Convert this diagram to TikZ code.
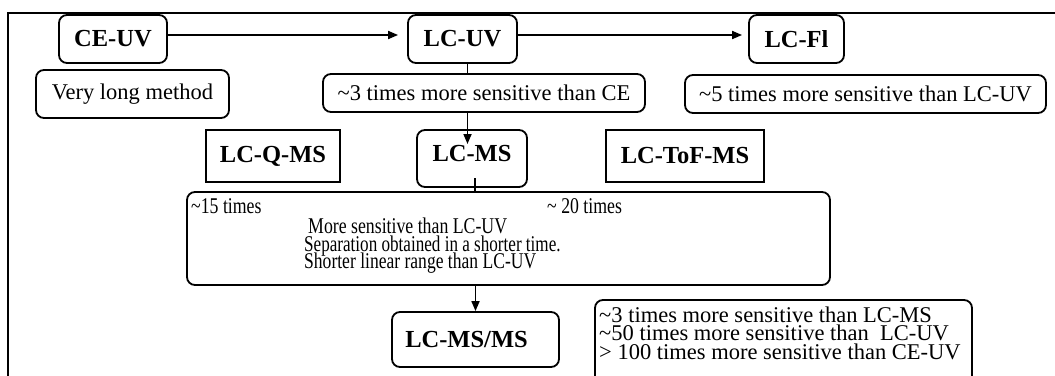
\documentclass[tikz,border=0pt]{standalone}
\usepackage{fontspec}
\usepackage{graphicx}
\setmainfont{Liberation Serif}
\usetikzlibrary{arrows.meta}
\begin{document}
\begin{tikzpicture}[x=1pt,y=-1pt,
  every node/.style={font=\fontsize{22.5}{24}\selectfont, inner sep=0pt},
  rbox/.style={draw, line width=1.8pt, rounded corners=8pt},
  sbox/.style={draw, line width=1.8pt},
  lbl/.style={font=\fontsize{24.5}{26}\selectfont\bfseries},
  conn/.style={line width=1.7pt},
  arr/.style={conn, -{Triangle[length=10pt,width=8pt]}},
  sq/.style={anchor=base west}
]
\useasboundingbox (0,0) rectangle (1055,375);
\clip (0,0) rectangle (1055,375);
% frame
\draw[line width=2pt] (8,380) -- (8,13) -- (1060,13);
% top row
\node[rbox,lbl,minimum width=108pt,minimum height=48pt] (ceuv) at (113,39) {CE-UV};
\node[rbox,lbl,minimum width=109pt,minimum height=48pt] (lcuv) at (462.5,39) {LC-UV};
\node[rbox,lbl,minimum width=95pt,minimum height=48pt] (lcfl) at (796.5,39) {LC-Fl};
% notes
\node[rbox,minimum width=193pt,minimum height=48pt] (vlm) at (132.5,94) {Very long method};
\node[rbox,minimum width=322pt,minimum height=38pt] (t3) at (484,93) {\textasciitilde3 times more sensitive than CE};
\node[rbox,minimum width=361pt,minimum height=38pt] (t5) at (865.5,94) {\textasciitilde5 times more sensitive than LC-UV};
% MS row
\node[sbox,lbl,minimum width=134pt,minimum height=52pt] (qms) at (273,156) {LC-Q-MS};
\node[rbox,lbl,minimum width=110pt,minimum height=57pt,text depth=10pt] (ms) at (472,158.5) {LC-MS};
\node[sbox,lbl,minimum width=158pt,minimum height=52pt] (tof) at (685,156) {LC-ToF-MS};
% big box
\node[rbox,minimum width=643pt,minimum height=93pt] (big) at (508.5,238.5) {};
\node[sq] (b1) at (191,213) {\scalebox{0.79}[1]{\textasciitilde15 times}};
\node[sq] (b2) at (547,213) {\scalebox{0.79}[1]{\textasciitilde\ 20 times}};
\node[sq] (b3) at (308,233) {\scalebox{0.79}[1]{More sensitive than LC-UV}};
\node[sq] (b4) at (304,251) {\scalebox{0.76}[1]{Separation obtained in a shorter time.}};
\node[sq] (b5) at (304,268) {\scalebox{0.78}[1]{Shorter linear range than LC-UV}};
% bottom
\node[rbox,lbl,minimum width=167pt,minimum height=55pt] (msms) at (475.5,339.5) {\hspace*{-18pt}LC-MS/MS};
\node[rbox,minimum width=377pt,minimum height=90pt] (br) at (783.5,345) {};
\node[sq] (r1) at (599,322) {\textasciitilde3 times more sensitive than LC-MS};
\node[sq] (r2) at (599,340) {\textasciitilde50 times more sensitive than\ \ LC-UV};
\node[sq] (r3) at (599,359) {> 100 times more sensitive than CE-UV};
% connectors
\draw[arr, shorten >=9pt] ([yshift=4pt]ceuv.east) -- ([yshift=4pt]lcuv.west);
\draw[arr, shorten >=6pt] ([yshift=4pt]lcuv.east) -- ([yshift=4pt]lcfl.west);
\coordinate (x1) at (467.5,0);
\draw[conn] (lcuv.south -| x1) -- (t3.north -| x1);
\coordinate (tip1) at (467.5,144);
\draw[arr] (t3.south -| x1) -- (tip1);
\coordinate (x2) at (475,178);
\draw[conn] (x2) -- (big.north -| x2);
\draw[arr] (big.south -| msms.north) -- (msms.north);
\end{tikzpicture}
\end{document}
